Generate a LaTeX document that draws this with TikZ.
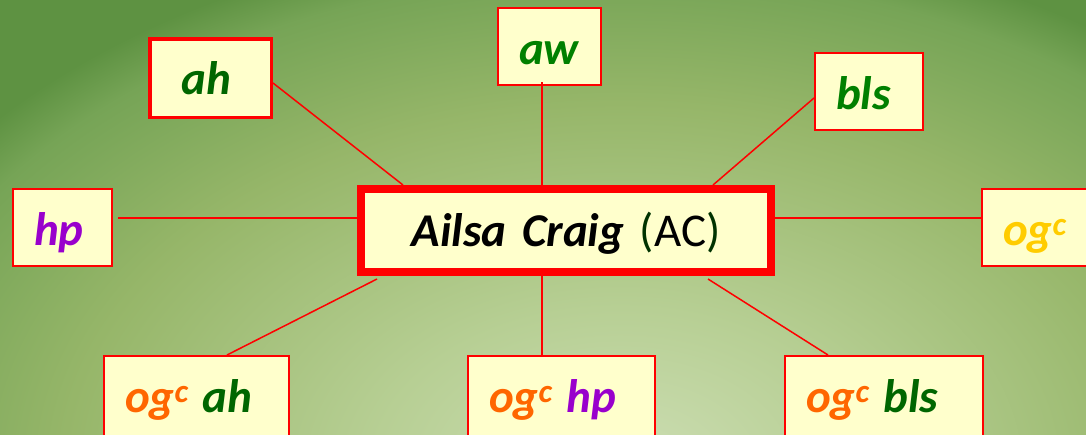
\documentclass[tikz,border=0pt]{standalone}
\usepackage{fontspec}
\setmainfont{Carlito}
\usetikzlibrary{calc}
\definecolor{leaffill}{RGB}{255,255,204}
\definecolor{ahgreen}{RGB}{0,102,0}
\definecolor{awgreen}{RGB}{0,128,0}
\definecolor{hppurple}{RGB}{153,0,204}
\definecolor{ogorange}{RGB}{255,102,0}
\definecolor{ogyellow}{RGB}{255,204,0}
\definecolor{parengreen}{RGB}{0,51,0}
\definecolor{glowin}{RGB}{205,222,180}
\definecolor{glowhi}{RGB}{183,207,148}
\definecolor{glowmid}{RGB}{150,182,105}
\definecolor{glowlow}{RGB}{118,164,86}
\definecolor{glowout}{RGB}{94,146,66}
\pgfdeclareradialshading{bgglow}{\pgfpoint{0bp}{0bp}}{color(0bp)=(glowin); color(7.5bp)=(glowhi); color(17bp)=(glowmid); color(23bp)=(glowlow); color(25bp)=(glowout); color(50bp)=(glowout)}

\begin{document}
\begin{tikzpicture}[x=1pt, y=-1pt,
  leaf/.style={draw=red, line width=2pt, fill=leaffill, inner xsep=21pt, inner ysep=0pt,
               text width=#1, align=left, text height=56pt, text depth=21pt, anchor=north west,
               font=\fontsize{47}{50}\selectfont\bfseries\itshape},
  hub/.style={draw=red, line width=8pt, fill=leaffill, inner xsep=0pt, inner ysep=0pt,
              text width=410pt, align=center, text height=57pt, text depth=26pt, anchor=north west,
              font=\fontsize{47}{50}\selectfont},
  spoke/.style={draw=red, line width=1.5pt},
]
\useasboundingbox (0,0) rectangle (1086,434);
\clip (0,0) rectangle (1086,434);
\shade[shading=bgglow] (-200,-70) rectangle (1440,1010);

\node[hub] (ac) at (357,185)
  {\textbf{\textit{Ailsa Craig}} {\color{parengreen}(}AC{\color{parengreen})}};
\node[leaf=57.5pt, line width=3.5pt, inner xsep=32pt, text height=55.5pt, text depth=23pt,
      text=ahgreen] (ah) at (148,37) {ah};
\node[leaf=61pt, text=awgreen] (aw) at (497,7) {aw};
\node[leaf=66pt, text=awgreen] (bls) at (814,52) {bls};
\node[leaf=57pt, text=hppurple] (hp) at (12,188) {hp};
\node[leaf=66pt, text=ogyellow] (ogc) at (981,188) {og\textsuperscript{c}};
\node[leaf=143pt, text depth=30pt] (ogcah) at (103,355)
  {{\color{ogorange}og\textsuperscript{c}}\hspace{-2pt} {\color{ahgreen}ah}};
\node[leaf=145pt, text depth=30pt] (ogchp) at (467,355)
  {{\color{ogorange}og\textsuperscript{c}}\hspace{-2pt} {\color{hppurple}hp}};
\node[leaf=156pt, text depth=30pt] (ogcbls) at (784,355)
  {{\color{ogorange}og\textsuperscript{c}}\hspace{-2pt} {\color{ahgreen}bls}};

\coordinate (vline) at (542,0);
\coordinate (hline) at (0,218);
\draw[spoke] ($(ah.east)+(0,5)$) -- ($(ac.north west)+(46,0)$);
\draw[spoke] ($(aw.south -| vline)+(0,-4)$) -- (ac.north -| vline);
\draw[spoke] ($(bls.west)+(0,6.5)$) -- ($(ac.north east)+(-62,0)$);
\draw[spoke] ($(hp.east |- hline)+(5,0)$) -- (ac.west |- hline);
\draw[spoke] (ac.east |- hline) -- (ogc.west |- hline);
\draw[spoke] ($(ac.south west)+(20,3)$) -- ($(ogcah.north)+(30.5,0)$);
\draw[spoke] (ac.south -| vline) -- (ogchp.north -| vline);
\draw[spoke] ($(ac.south east)+(-67,3)$) -- ($(ogcbls.north)+(-56,0)$);
\end{tikzpicture}
\end{document}
